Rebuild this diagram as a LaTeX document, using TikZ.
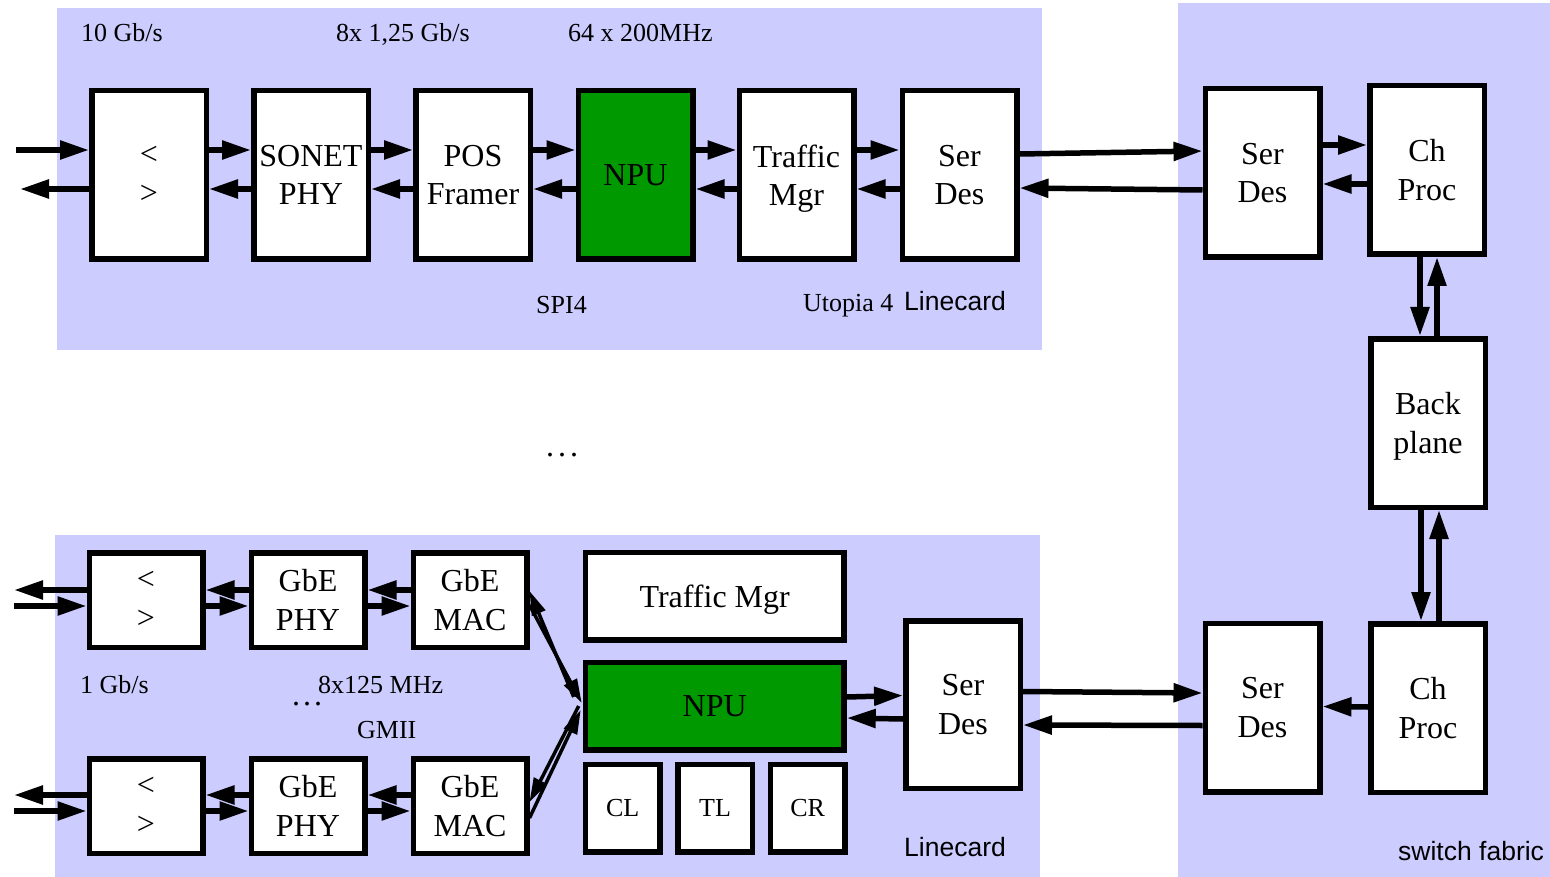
\documentclass[tikz,border=0pt]{standalone}
\usepackage{fontspec}
\setmainfont{Liberation Serif}
\newfontfamily\labelsans{Liberation Sans}
\usetikzlibrary{arrows.meta}
\definecolor{panel}{HTML}{CCCCFF}
\definecolor{npugreen}{HTML}{009900}

\begin{document}
\begin{tikzpicture}[x=1pt,y=-1pt,
  blk/.style={draw=black,line width=5.5pt,fill=white,inner sep=0pt,align=center,
    line join=miter,text depth=0pt,font=\fontsize{32}{38.5}\selectfont},
  tall/.style={minimum width=114.5pt,minimum height=168.5pt},
  gbe/.style={minimum width=113.5pt,minimum height=94.5pt},
  wide/.style={minimum width=258.5pt,minimum height=87.5pt},
  tiny/.style={minimum width=74.5pt,minimum height=87.5pt,font=\fontsize{26}{30}\selectfont},
  arr/.style={line width=5.5pt,-{Triangle[length=29pt,width=18pt]}},
  diag/.style={line width=3.5pt,-{Triangle[length=24pt,width=14pt]}},
  lbl/.style={font=\fontsize{26}{30}\selectfont,inner sep=0pt,anchor=base west},
  slbl/.style={font=\labelsans\fontsize{26.5}{30}\selectfont,inner sep=0pt,anchor=base west}]

\useasboundingbox (0,0) rectangle (1550,877);

% background panels
\fill[panel] (57,8) rectangle (1042,350);
\fill[panel] (55,535) rectangle (1040,877);
\fill[panel] (1178,3) rectangle (1550,877);

% upper linecard
\node[blk,tall] (lt) at (149,175) {<\\>};
\node[blk,tall] (sonet) at (311,175) {SONET\\PHY};
\node[blk,tall] (pos) at (473,175) {POS\\Framer};
\node[blk,tall,fill=npugreen] (npua) at (635.5,175) {NPU};
\node[blk,tall] (tma) at (796.5,175) {Traffic\\Mgr};
\node[blk,tall] (sda) at (959.5,175) {Ser\\Des};

% switch fabric
\node[blk,tall] (sdb) at (1262.5,173) {Ser\\Des};
\node[blk,tall] (cpa) at (1427,170) {Ch\\Proc};
\node[blk,tall] (bp) at (1428,423) {Back\\plane};
\node[blk,tall] (cpb) at (1428,708) {Ch\\Proc};
\node[blk,tall] (sdc) at (1262.5,707.5) {Ser\\Des};

% lower linecard
\node[blk,minimum width=114.5pt,minimum height=167.5pt] (sdd) at (963,704.5) {Ser\\Des};
\node[blk,wide] (tmb) at (714.7,596.3) {Traffic Mgr};
\node[blk,wide,fill=npugreen] (npub) at (714.7,706) {NPU};
\node[blk,tiny] (cl) at (622.7,808.3) {CL};
\node[blk,tiny] (tl) at (715,808.3) {TL};
\node[blk,tiny] (cr) at (807.7,808.3) {CR};
\node[blk,gbe] (lta) at (146,600) {<\\>};
\node[blk,gbe] (phya) at (308,600) {GbE\\PHY};
\node[blk,gbe] (maca) at (470,600) {GbE\\MAC};
\node[blk,gbe] (ltb) at (146,806) {<\\>};
\node[blk,gbe] (phyb) at (308,806) {GbE\\PHY};
\node[blk,gbe] (macb) at (470,806) {GbE\\MAC};

% free line ends
\coordinate (inA) at (16,150);
\coordinate (outA) at (20,189);
\coordinate (inB) at (14,606);
\coordinate (outB) at (14,590);
\coordinate (inC) at (14,811);
\coordinate (outC) at (14,795);

% upper linecard links
\draw[arr] (inA) -- ([yshift=25pt]lt.west);
\draw[arr] ([yshift=-14pt]lt.west) -- (outA);
\foreach \a/\b in {lt/sonet,sonet/pos,pos/npua,npua/tma,tma/sda}{
  \draw[arr] ([yshift=25pt]\a.east) -- ([yshift=25pt]\b.west);
  \draw[arr] ([yshift=-14pt]\b.west) -- ([yshift=-14pt]\a.east);
}
\draw[arr] ([yshift=21pt]sda.east) -- ([yshift=22pt]sdb.west);
\draw[arr] ([yshift=-17pt]sdb.west) -- ([yshift=-13pt]sda.east);

% switch fabric links
\draw[arr] ([yshift=28pt]sdb.east) -- ([yshift=25pt]cpa.west);
\draw[arr] ([yshift=-14pt]cpa.west) -- ([yshift=-11pt]sdb.east);
\draw[arr] ([xshift=-7pt]cpa.south) -- ([xshift=-8pt]bp.north);
\draw[arr] ([xshift=9pt]bp.north) -- ([xshift=10pt]cpa.south);
\draw[arr] ([xshift=-7pt]bp.south) -- ([xshift=-7pt]cpb.north);
\draw[arr] ([xshift=11pt]cpb.north) -- ([xshift=11pt]bp.south);
\draw[arr] ([yshift=1pt]cpb.west) -- ([yshift=1pt]sdc.east);

% lower linecard links
\draw[arr] ([yshift=13pt]sdd.east) -- ([yshift=14.5pt]sdc.west);
\draw[arr] ([yshift=-18pt]sdc.west) -- ([yshift=-20.5pt]sdd.east);
\draw[arr] ([yshift=9pt]npub.east) -- ([yshift=9pt]sdd.west);
\draw[arr] ([yshift=-14.5pt]sdd.west) -- ([yshift=-12pt]npub.east);

\draw[arr] ([yshift=10pt]lta.west) -- (outB);
\draw[arr] (inB) -- ([yshift=-6pt]lta.west);
\draw[arr] ([yshift=11pt]ltb.west) -- (outC);
\draw[arr] (inC) -- ([yshift=-5pt]ltb.west);
\foreach \a/\b in {lta/phya,phya/maca}{
  \draw[arr] ([yshift=10pt]\b.west) -- ([yshift=10pt]\a.east);
  \draw[arr] ([yshift=-6pt]\a.east) -- ([yshift=-6pt]\b.west);
}
\foreach \a/\b in {ltb/phyb,phyb/macb}{
  \draw[arr] ([yshift=11pt]\b.west) -- ([yshift=11pt]\a.east);
  \draw[arr] ([yshift=-5pt]\a.east) -- ([yshift=-5pt]\b.west);
}

% MAC <-> NPU
\draw[diag] ([xshift=-9pt,yshift=9pt]npub.west) -- ([yshift=9pt]maca.east);
\draw[diag] ([yshift=-5pt]maca.east) -- ([xshift=-1pt,yshift=3pt]npub.west);
\draw[diag] ([yshift=-12pt]macb.east) -- ([xshift=-2pt,yshift=-4pt]npub.west);
\draw[diag] ([xshift=-4pt,yshift=0pt]npub.west) -- ([yshift=4pt]macb.east);

% labels
\node[lbl] (r1) at (81,42) {10 Gb/s};
\node[lbl] (r2) at (336,42) {8x 1,25 Gb/s};
\node[lbl] (r3) at (568,42) {64 x 200MHz};
\node[lbl] (spi) at (536,313) {SPI4};
\node[lbl] (uto) at (803,312) {Utopia 4};
\node[slbl] (lc1) at (904,311) {Linecard};
\node[lbl,font=\fontsize{32}{38}\selectfont] (dots1) at (546,456) {.\kern4pt.\kern4pt.};
\node[lbl] (r4) at (80,693) {1 Gb/s};
\node[lbl] (r5) at (318,693) {8x125 MHz};
\node[lbl,font=\fontsize{32}{38}\selectfont] (dots2) at (292,705) {.\kern3pt.\kern3pt.};
\node[lbl] (gmii) at (357,738) {GMII};
\node[slbl] (lc2) at (904,856) {Linecard};
\node[slbl] (sf) at (1398,860) {switch fabric};
\end{tikzpicture}
\end{document}
